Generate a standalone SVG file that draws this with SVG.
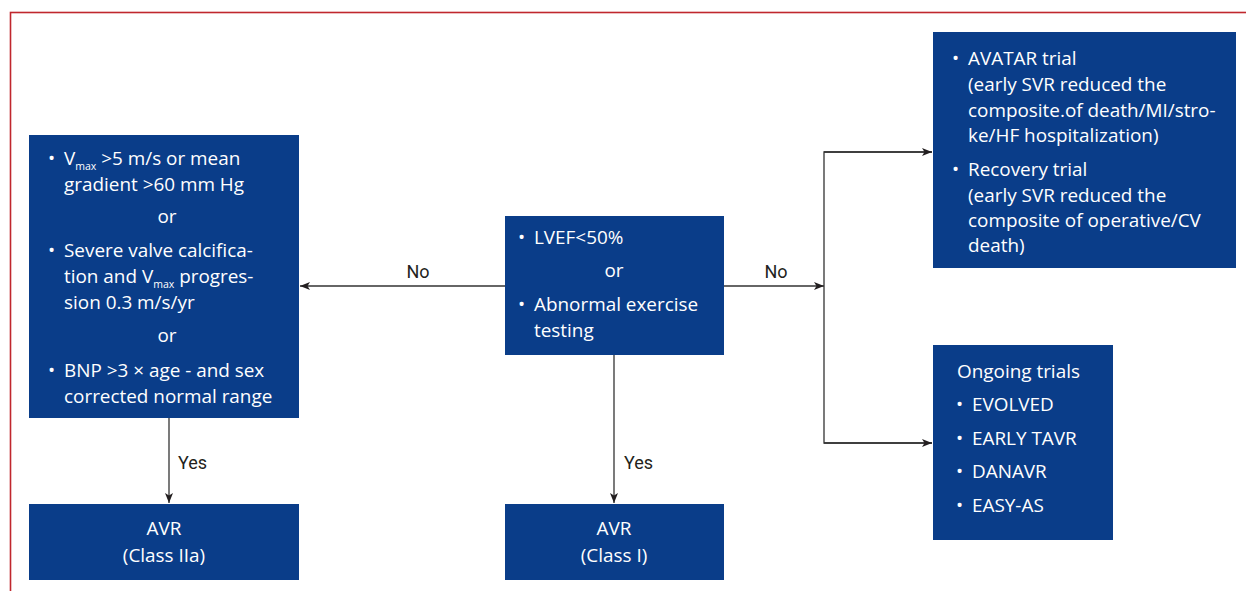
<svg xmlns="http://www.w3.org/2000/svg" width="1246" height="591" viewBox="0 0 1246 591">
<style>
.box{fill:#0a3d89}
.t{font-family:"Open Sans","Noto Sans",sans-serif;font-size:18.9px;fill:#ffffff}
.c{text-anchor:middle}
.sub{font-size:10.5px}
.lbl{font-family:Roboto,"Liberation Sans",sans-serif;font-size:18px;fill:#231f20}
.ln{stroke:#333333;stroke-width:1.3;fill:none}
</style>
<defs>
<marker id="ah" viewBox="0 0 10 8" refX="10" refY="4" markerWidth="10" markerHeight="8" markerUnits="userSpaceOnUse" orient="auto">
<path d="M0,0 L10,4 L0,8 L2.5,4 Z" fill="#231f20"/>
</marker>
</defs>
<rect x="10.5" y="12.5" width="1250" height="600" fill="none" stroke="#c0272d" stroke-width="1.6"/>
<g id="connectors">
<line class="ln" x1="505" y1="286" x2="300" y2="286" marker-end="url(#ah)"/>
<polyline class="ln" points="724,286 824,286"  marker-end="url(#ah)"/>
<polyline class="ln" points="932,152 824,152 824,443 932,443"/>
<line class="ln" x1="824" y1="152" x2="932" y2="152" marker-end="url(#ah)"/>
<line class="ln" x1="824" y1="443" x2="932" y2="443" marker-end="url(#ah)"/>
<line class="ln" x1="169" y1="418" x2="169" y2="503" marker-end="url(#ah)"/>
<line class="ln" x1="614" y1="355" x2="614" y2="503" marker-end="url(#ah)"/>
<text class="lbl" x="418" y="278" text-anchor="middle">No</text>
<text class="lbl" x="776" y="278" text-anchor="middle">No</text>
<text class="lbl" x="178" y="469">Yes</text>
<text class="lbl" x="624" y="469">Yes</text>
</g>
<g id="criteria">
<rect class="box" x="29" y="135" width="270" height="283"/>
<text class="t" x="48" y="165">•</text>
<text class="t" x="64" y="165">V<tspan class="sub" dy="5">max</tspan><tspan dy="-5"> &gt;5 m/s or mean</tspan></text>
<text class="t" x="64" y="191">gradient &gt;60 mm Hg</text>
<text class="t c" x="167" y="223">or</text>
<text class="t" x="48" y="257">•</text>
<text class="t" x="64" y="257">Severe valve calcifica-</text>
<text class="t" x="64" y="283">tion and V<tspan class="sub" dy="5">max</tspan><tspan dy="-5"> progres-</tspan></text>
<text class="t" x="64" y="309">sion 0.3 m/s/yr</text>
<text class="t c" x="167" y="342">or</text>
<text class="t" x="48" y="377">•</text>
<text class="t" x="64" y="377">BNP &gt;3 × age - and sex</text>
<text class="t" x="64" y="403">corrected normal range</text>
</g>
<g id="lvef">
<rect class="box" x="505" y="216" width="219" height="139"/>
<text class="t" x="518" y="244">•</text>
<text class="t" x="534" y="244">LVEF&lt;50%</text>
<text class="t c" x="614" y="277">or</text>
<text class="t" x="518" y="311">•</text>
<text class="t" x="534" y="311">Abnormal exercise</text>
<text class="t" x="534" y="337">testing</text>
</g>
<g id="trials">
<rect class="box" x="933" y="32" width="303" height="236"/>
<text class="t" x="952" y="65">•</text>
<text class="t" x="968" y="65">AVATAR trial</text>
<text class="t" x="968" y="91">(early SVR reduced the</text>
<text class="t" x="968" y="117">composite.of death/MI/stro-</text>
<text class="t" x="968" y="142">ke/HF hospitalization)</text>
<text class="t" x="952" y="176">•</text>
<text class="t" x="968" y="176">Recovery trial</text>
<text class="t" x="968" y="202">(early SVR reduced the</text>
<text class="t" x="968" y="227">composite of operative/CV</text>
<text class="t" x="968" y="252">death)</text>
</g>
<g id="ongoing">
<rect class="box" x="933" y="345" width="180" height="195"/>
<text class="t" x="957" y="378">Ongoing trials</text>
<text class="t" x="956" y="411">•</text>
<text class="t" x="972" y="411">EVOLVED</text>
<text class="t" x="956" y="445">•</text>
<text class="t" x="972" y="445">EARLY TAVR</text>
<text class="t" x="956" y="478">•</text>
<text class="t" x="972" y="478">DANAVR</text>
<text class="t" x="956" y="512">•</text>
<text class="t" x="972" y="512">EASY-AS</text>
</g>
<g id="avr2a">
<rect class="box" x="29" y="504" width="270" height="76"/>
<text class="t c" x="164" y="535">AVR</text>
<text class="t c" x="164" y="562">(Class IIa)</text>
</g>
<g id="avr1">
<rect class="box" x="505" y="504" width="219" height="76"/>
<text class="t c" x="614" y="535">AVR</text>
<text class="t c" x="614" y="562">(Class I)</text>
</g>
</svg>
